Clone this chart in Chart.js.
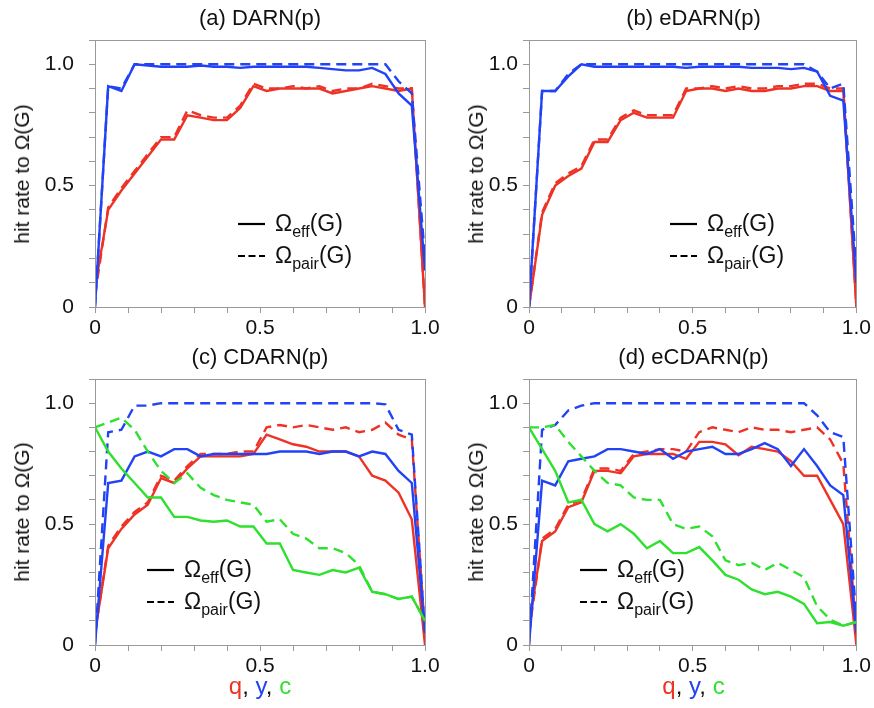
<!DOCTYPE html>
<html>
<head>
<meta charset="utf-8">
<script src="https://cdn.jsdelivr.net/npm/chart.js@4.4.1/dist/chart.umd.min.js"></script>
<style>
  body { margin: 0; background: #fff; }
  #page { position: relative; width: 874px; height: 708px; overflow: hidden; background: #fff;
          font-family: "Liberation Sans", Arial, Helvetica, sans-serif; color: #111; }
  .panel canvas { position: absolute; }
  .ptitle { position: absolute; font-size: 22px; white-space: nowrap; transform: translateX(-50%); }
  .ylab { position: absolute; width: 0; height: 0; }
  .ylab span { position: absolute; white-space: nowrap; font-size: 21px;
               transform: translate(-50%, -50%) rotate(-90deg); }
  .xlab { position: absolute; font-size: 24px; white-space: nowrap; transform: translateX(-50%); }
  .leg { position: absolute; font-size: 23px; white-space: nowrap; }
  .leg .row { height: 32px; position: relative; }
  .leg svg { position: absolute; left: 0; top: 14px; }
  .leg .txt { position: absolute; left: 37px; top: 2px; line-height: 26px; }
  .leg sub { font-size: 16px; vertical-align: -6px; line-height: 0; }
</style>
</head>
<body>
<div id="page"></div>
<script>
// x positions shared by all curves
const X = [0, 0.04, 0.08, 0.12, 0.16, 0.2, 0.24, 0.28, 0.32, 0.36, 0.4, 0.44, 0.48,
           0.52, 0.56, 0.6, 0.64, 0.68, 0.72, 0.76, 0.8, 0.84, 0.88, 0.92, 0.96, 1.0];

// (a) DARN(p)
const darnQEff  = [0.08, 0.40, 0.48, 0.55, 0.62, 0.69, 0.69, 0.79, 0.78, 0.77, 0.77, 0.82, 0.91, 0.89, 0.90, 0.90, 0.90, 0.90, 0.88, 0.89, 0.90, 0.91, 0.90, 0.89, 0.90, 0.0];
const darnQPair = [0.05, 0.41, 0.49, 0.56, 0.63, 0.70, 0.70, 0.81, 0.79, 0.78, 0.78, 0.83, 0.92, 0.90, 0.90, 0.91, 0.90, 0.91, 0.89, 0.90, 0.90, 0.92, 0.91, 0.90, 0.90, 0.0];
const darnYEff  = [0.0, 0.91, 0.89, 1.0, 0.995, 0.99, 0.99, 0.99, 0.995, 0.99, 0.99, 0.985, 0.99, 0.99, 0.99, 0.99, 0.99, 0.985, 0.98, 0.975, 0.975, 0.985, 0.96, 0.88, 0.83, 0.15];
const darnYPair = [0.0, 0.91, 0.90, 1.0, 1.0, 1.0, 1.0, 1.0, 1.0, 1.0, 1.0, 1.0, 1.0, 1.0, 1.0, 1.0, 1.0, 1.0, 1.0, 1.0, 1.0, 1.0, 1.0, 0.93, 0.88, 0.2];

// (b) eDARN(p)
const edarnQEff  = [0.0, 0.38, 0.50, 0.54, 0.57, 0.68, 0.68, 0.77, 0.80, 0.78, 0.78, 0.78, 0.89, 0.90, 0.90, 0.89, 0.90, 0.89, 0.89, 0.90, 0.90, 0.91, 0.91, 0.89, 0.89, 0.0];
const edarnQPair = [0.0, 0.39, 0.51, 0.55, 0.58, 0.69, 0.69, 0.78, 0.81, 0.79, 0.79, 0.79, 0.90, 0.90, 0.91, 0.90, 0.91, 0.90, 0.90, 0.91, 0.91, 0.92, 0.92, 0.90, 0.90, 0.0];
const edarnYEff  = [0.0, 0.89, 0.89, 0.95, 1.0, 0.99, 0.99, 0.99, 0.99, 0.99, 0.99, 0.99, 0.985, 0.99, 0.99, 0.99, 0.99, 0.985, 0.985, 0.985, 0.98, 0.985, 0.97, 0.87, 0.85, 0.1];
const edarnYPair = [0.0, 0.89, 0.89, 0.96, 1.0, 1.0, 1.0, 1.0, 1.0, 1.0, 1.0, 1.0, 1.0, 1.0, 1.0, 1.0, 1.0, 1.0, 1.0, 1.0, 1.0, 1.0, 0.97, 0.90, 0.92, 0.15];

// (c) CDARN(p)
const cdarnQEff  = [0.05, 0.40, 0.48, 0.54, 0.58, 0.69, 0.67, 0.73, 0.78, 0.78, 0.78, 0.78, 0.79, 0.87, 0.85, 0.83, 0.82, 0.80, 0.80, 0.80, 0.78, 0.70, 0.68, 0.63, 0.52, 0.0];
const cdarnQPair = [0.05, 0.41, 0.49, 0.55, 0.59, 0.70, 0.68, 0.74, 0.79, 0.79, 0.79, 0.80, 0.80, 0.90, 0.91, 0.90, 0.91, 0.90, 0.89, 0.90, 0.88, 0.89, 0.92, 0.87, 0.85, 0.05];
const cdarnYEff  = [0.0, 0.67, 0.68, 0.78, 0.80, 0.78, 0.81, 0.81, 0.78, 0.79, 0.79, 0.79, 0.79, 0.79, 0.80, 0.80, 0.80, 0.79, 0.80, 0.80, 0.78, 0.80, 0.79, 0.72, 0.67, 0.05];
const cdarnYPair = [0.0, 0.88, 0.89, 0.99, 0.99, 1.0, 1.0, 1.0, 1.0, 1.0, 1.0, 1.0, 1.0, 1.0, 1.0, 1.0, 1.0, 1.0, 1.0, 1.0, 1.0, 1.0, 0.995, 0.89, 0.87, 0.05];
const cdarnCEff  = [0.90, 0.80, 0.73, 0.67, 0.61, 0.61, 0.53, 0.53, 0.515, 0.51, 0.515, 0.49, 0.49, 0.42, 0.42, 0.31, 0.30, 0.29, 0.31, 0.30, 0.32, 0.22, 0.21, 0.19, 0.20, 0.10];
const cdarnCPair = [0.90, 0.92, 0.94, 0.89, 0.80, 0.72, 0.67, 0.71, 0.65, 0.62, 0.60, 0.59, 0.58, 0.51, 0.52, 0.46, 0.44, 0.40, 0.40, 0.38, 0.33, 0.22, 0.21, 0.19, 0.20, 0.10];

// (d) eCDARN(p)
const ecdarnQEff  = [0.08, 0.43, 0.47, 0.57, 0.59, 0.72, 0.72, 0.71, 0.78, 0.79, 0.79, 0.79, 0.77, 0.84, 0.84, 0.83, 0.785, 0.82, 0.81, 0.80, 0.76, 0.70, 0.70, 0.60, 0.50, 0.0];
const ecdarnQPair = [0.05, 0.44, 0.48, 0.58, 0.60, 0.73, 0.73, 0.72, 0.79, 0.80, 0.81, 0.81, 0.80, 0.88, 0.90, 0.89, 0.88, 0.90, 0.89, 0.89, 0.88, 0.89, 0.90, 0.85, 0.75, 0.05];
const ecdarnYEff  = [0.0, 0.68, 0.66, 0.76, 0.77, 0.78, 0.81, 0.81, 0.80, 0.79, 0.81, 0.77, 0.80, 0.81, 0.82, 0.79, 0.79, 0.81, 0.835, 0.81, 0.74, 0.81, 0.74, 0.66, 0.62, 0.05];
const ecdarnYPair = [0.0, 0.89, 0.91, 0.97, 0.99, 1.0, 1.0, 1.0, 1.0, 1.0, 1.0, 1.0, 1.0, 1.0, 1.0, 1.0, 1.0, 1.0, 1.0, 1.0, 1.0, 1.0, 0.95, 0.88, 0.86, 0.1];
const ecdarnCEff  = [0.90, 0.81, 0.72, 0.59, 0.60, 0.50, 0.47, 0.50, 0.46, 0.40, 0.43, 0.38, 0.38, 0.405, 0.35, 0.29, 0.27, 0.23, 0.21, 0.22, 0.20, 0.17, 0.09, 0.095, 0.08, 0.095];
const ecdarnCPair = [0.90, 0.90, 0.91, 0.84, 0.78, 0.72, 0.67, 0.66, 0.61, 0.60, 0.60, 0.50, 0.48, 0.49, 0.45, 0.35, 0.33, 0.34, 0.31, 0.34, 0.31, 0.28, 0.16, 0.105, 0.08, 0.095];

// labelled ticks (minor ticks every 0.1 are unlabelled)
const TICK_VALUES = [0, 0.5, 1.0];
const TICK_TEXT = ['0', '0.5', '1.0'];

const RED = '#ee3326', BLUE = '#2142f5', GREEN = '#2fe02f';
const FONT = '"Liberation Sans Narrow", "Arial Narrow", "Liberation Sans", Arial, sans-serif';

const panels = [
  { title: '(a) DARN(p)',   left: 0,   top: 0,   w: 445, h: 340, padTop: 40, padRight: 20, yW: 95, xH: 33,
    ylabX: 22, yPad: 15, legX: 238, legY: 208,
    lines: [[darnYPair, BLUE, true], [darnYEff, BLUE, false], [darnQPair, RED, true], [darnQEff, RED, false]] },
  { title: '(b) eDARN(p)',  left: 434, top: 0,   w: 440, h: 340, padTop: 40, padRight: 16, yW: 95, xH: 33,
    ylabX: 476, yPad: 5, legX: 670, legY: 208,
    lines: [[edarnYPair, BLUE, true], [edarnYEff, BLUE, false], [edarnQPair, RED, true], [edarnQEff, RED, false]] },
  { title: '(c) CDARN(p)',  left: 0,   top: 340, w: 445, h: 368, padTop: 39, padRight: 20, yW: 95, xH: 63,
    ylabX: 22, yPad: 15, legX: 147, legY: 554, xlab: true,
    lines: [[cdarnCPair, GREEN, true], [cdarnCEff, GREEN, false], [cdarnYPair, BLUE, true], [cdarnYEff, BLUE, false],
            [cdarnQPair, RED, true], [cdarnQEff, RED, false]] },
  { title: '(d) eCDARN(p)', left: 434, top: 340, w: 440, h: 368, padTop: 39, padRight: 16, yW: 95, xH: 63,
    ylabX: 476, yPad: 5, legX: 580, legY: 554, xlab: true,
    lines: [[ecdarnCPair, GREEN, true], [ecdarnCEff, GREEN, false], [ecdarnYPair, BLUE, true], [ecdarnYEff, BLUE, false],
            [ecdarnQPair, RED, true], [ecdarnQEff, RED, false]] },
];

// grey frame on all four sides of the plot area
const framePlugin = {
  id: 'frame',
  afterDraw(chart) {
    const a = chart.chartArea, ctx = chart.ctx;
    ctx.save();
    ctx.strokeStyle = '#9a9a9a';
    ctx.lineWidth = 1;
    ctx.strokeRect(Math.round(a.left) + 0.5, Math.round(a.top) + 0.5,
                   Math.round(a.right - a.left), Math.round(a.bottom - a.top));
    ctx.restore();
  }
};

function tickLabel(v) {
  const i = TICK_VALUES.findIndex(t => Math.abs(t - v) < 1e-9);
  return i >= 0 ? TICK_TEXT[i] : '';
}

const page = document.getElementById('page');

panels.forEach(p => {
  const box = document.createElement('div');
  box.className = 'panel';
  page.appendChild(box);

  const cv = document.createElement('canvas');
  cv.width = p.w; cv.height = p.h;
  cv.style.left = p.left + 'px'; cv.style.top = p.top + 'px';
  cv.style.width = p.w + 'px'; cv.style.height = p.h + 'px';
  box.appendChild(cv);

  const axisGrid = { drawOnChartArea: false, drawTicks: true, tickLength: 6, color: '#9a9a9a', lineWidth: 1 };

  new Chart(cv, {
    type: 'line',
    data: {
      datasets: p.lines.map(([vals, color, dashed]) => ({
        data: X.map((x, i) => ({ x, y: vals[i] })),
        borderColor: color,
        borderWidth: 2.4,
        borderDash: dashed ? [10, 6] : [],
        pointRadius: 0,
        tension: 0,
        fill: false
      }))
    },
    options: {
      responsive: false,
      animation: false,
      devicePixelRatio: 1,
      layout: { padding: { top: p.padTop, right: p.padRight, left: 0, bottom: 0 } },
      plugins: { legend: { display: false }, tooltip: { enabled: false }, title: { display: false } },
      scales: {
        x: {
          type: 'linear', min: 0, max: 1,
          grid: axisGrid,
          border: { display: true, color: '#9a9a9a', width: 1 },
          ticks: { stepSize: 0.1, autoSkip: false, maxRotation: 0, minRotation: 0, padding: 3,
                   color: '#111', font: { family: FONT, size: 21 }, callback: v => tickLabel(v) },
          afterFit: s => { s.height = p.xH; }
        },
        y: {
          type: 'linear', min: 0, max: 1.1,
          grid: axisGrid,
          border: { display: true, color: '#9a9a9a', width: 1 },
          ticks: { stepSize: 0.1, autoSkip: false, padding: p.yPad, color: '#111',
                   font: { family: FONT, size: 21 }, callback: v => tickLabel(v) },
          afterFit: s => { s.width = p.yW; }
        }
      }
    },
    plugins: [framePlugin]
  });

  const plotL = p.left + p.yW;
  const plotR = p.left + p.w - p.padRight;
  const cx = (plotL + plotR) / 2;
  const plotT = p.top + p.padTop;
  const plotB = p.top + p.h - p.xH;

  const t = document.createElement('div');
  t.className = 'ptitle';
  t.textContent = p.title;
  t.style.left = cx + 'px';
  t.style.top = (plotT - 35) + 'px';
  page.appendChild(t);

  const yl = document.createElement('div');
  yl.className = 'ylab';
  yl.style.left = p.ylabX + 'px';
  yl.style.top = ((plotT + plotB) / 2) + 'px';
  yl.innerHTML = '<span>hit rate to Ω(G)</span>';
  page.appendChild(yl);

  const lg = document.createElement('div');
  lg.className = 'leg';
  lg.style.left = p.legX + 'px';
  lg.style.top = p.legY + 'px';
  lg.innerHTML =
    '<div class="row"><svg width="27" height="4"><line x1="0" y1="2" x2="27" y2="2" stroke="#000" stroke-width="2.2"/></svg>' +
    '<span class="txt">Ω<sub>eff</sub>(G)</span></div>' +
    '<div class="row"><svg width="27" height="4"><line x1="0" y1="2" x2="27" y2="2" stroke="#000" stroke-width="2.2" stroke-dasharray="7,3.5"/></svg>' +
    '<span class="txt">Ω<sub>pair</sub>(G)</span></div>';
  page.appendChild(lg);

  if (p.xlab) {
    const xl = document.createElement('div');
    xl.className = 'xlab';
    xl.style.left = cx + 'px';
    xl.style.top = '672px';
    xl.innerHTML = '<span style="color:' + RED + '">q</span>, <span style="color:' + BLUE + '">y</span>, <span style="color:' + GREEN + '">c</span>';
    page.appendChild(xl);
  }
});
</script>
</body>
</html>
